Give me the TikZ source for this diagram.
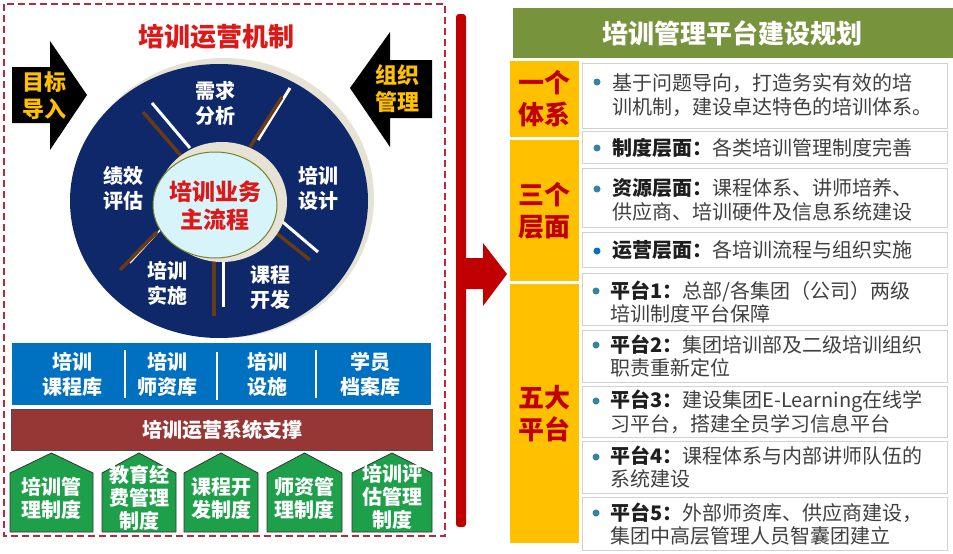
\documentclass[tikz,border=0pt]{standalone}
\usepackage{fontspec}
\setmainfont{Noto Sans CJK SC}
\definecolor{navy}{RGB}{15,40,105}
\definecolor{beige}{RGB}{230,226,212}
\definecolor{innerfill}{RGB}{214,244,250}
\definecolor{olive}{RGB}{120,130,40}
\definecolor{brownline}{RGB}{105,58,22}
\definecolor{bandblue}{RGB}{0,112,192}
\definecolor{bandbrown}{RGB}{150,55,53}
\definecolor{housegreen}{RGB}{30,160,75}
\definecolor{gold}{RGB}{255,192,0}
\definecolor{titleolive}{RGB}{119,147,60}
\definecolor{darkred}{RGB}{192,0,0}
\definecolor{brightred}{RGB}{222,24,24}
\definecolor{bulletc}{RGB}{49,133,156}
\definecolor{txtgray}{RGB}{64,64,64}
\definecolor{lblblack}{RGB}{30,30,30}
\definecolor{dashred}{RGB}{190,40,60}
\newcommand\lbtxt[1]{{\bfseries\color{lblblack}#1}}
\begin{document}
\begin{tikzpicture}[x=1pt,y=-1pt,
  wlabel/.style={font=\fontsize{20}{25}\selectfont\bfseries, text=white, align=center, inner sep=0},
  housetxt/.style={font=\fontsize{20}{23}\selectfont\bfseries, text=white, align=center, inner sep=0},
  goldlabel/.style={font=\fontsize{26}{32}\selectfont\bfseries, text=darkred, align=center, inner sep=0},
  rowbox/.style={draw=black!18, fill=white, line width=0.8pt},
  rowtxt/.style={font=\fontsize{20}{23.5}\selectfont, text=txtgray, align=left, anchor=west, inner sep=0},
  bul/.style={circle, fill=bulletc, inner sep=0, minimum size=7pt},
  house/.style={fill=housegreen, draw=black!80, line width=0.8pt},
  blackarrow/.style={fill=black},
  wline/.style={draw=white, line width=3pt},
  bline/.style={draw=brownline, line width=3.5pt}
]
\useasboundingbox (0,0) rectangle (953,554);

% ---------- left panel ----------
\draw[dashred, line width=1.2pt, dash pattern=on 7pt off 4pt] (4,4) rectangle (445,536);
\node[font=\fontsize{26}{30}\selectfont\bfseries, text=brightred, inner sep=0] (lefttitle) at (216,37) {培训运营机制};

% black arrows
\fill[blackarrow] (12,67) -- (50,67) -- (50,41) -- (87,95) -- (50,150) -- (50,123) -- (12,123) -- cycle;
\node[font=\fontsize{22}{27}\selectfont\bfseries, text=gold, align=center, inner sep=0] (goal) at (44,96) {目标\\导入};
\fill[blackarrow] (432,60) -- (390,60) -- (390,32) -- (350,88) -- (390,147) -- (390,118) -- (432,118) -- cycle;
\node[font=\fontsize{22}{27}\selectfont\bfseries, text=gold, align=center, inner sep=0] (org) at (397,89) {组织\\管理};

% circle
\fill[beige] (224,198) ellipse [x radius=150, y radius=140];
\fill[navy] (219,201) ellipse [x radius=149, y radius=137];
% dividers
\draw[wline] (152,103) -- (190,148);
\draw[bline] (143,112) -- (182,157);
\draw[wline] (290,88) -- (258,140);
\draw[bline] (282,97) -- (250,147);
\draw[wline] (278,218) -- (318,252);
\draw[bline] (270,228) -- (310,260);
\draw[wline] (223,258) -- (223,307);
\draw[bline] (214,262) -- (214,316);
\draw[wline, line width=1.5pt] (162,228) -- (130,263);
\draw[bline] (157,232) -- (120,270);
% inner
\fill[beige] (222,202) ellipse [x radius=65, y radius=60];
\draw[olive, fill=innerfill, line width=1pt] (215,205) ellipse [x radius=62, y radius=53];
\node[font=\fontsize{23}{28}\selectfont\bfseries, text=brightred, align=center, inner sep=0] (core) at (215,206) {培训业务\\主流程};

\node[wlabel] (s1) at (215,103) {需求\\分析};
\node[wlabel] (s2) at (318,188) {培训\\设计};
\node[wlabel] (s3) at (270,288) {课程\\开发};
\node[wlabel] (s4) at (167,283) {培训\\实施};
\node[wlabel] (s5) at (123,188) {绩效\\评估};

% blue band
\fill[bandblue] (12,343) rectangle (431,405);
\draw[white, line width=1.2pt] (125,350) -- (125,398);
\draw[white, line width=1.2pt] (217,352) -- (217,400);
\draw[white, line width=1.2pt] (316,350) -- (316,398);
\node[wlabel] (lib1) at (72,374) {培训\\课程库};
\node[wlabel] (lib2) at (167,374) {培训\\师资库};
\node[wlabel] (lib3) at (267,374) {培训\\设施};
\node[wlabel] (lib4) at (370,374) {学员\\档案库};

% brown band
\draw[fill=bandbrown, draw=black!70, line width=0.8pt] (11,409) rectangle (432,450);
\node[wlabel] (support) at (222,430) {培训运营系统支撑};

% houses
\draw[house] (10,532) -- (10,473) -- (51.5,453) -- (93,473) -- (93,532) -- cycle;
\draw[house] (102,532) -- (102,473) -- (139,453) -- (176,473) -- (176,532) -- cycle;
\draw[house] (184,532) -- (184,473) -- (221,453) -- (258,473) -- (258,532) -- cycle;
\draw[house] (267,532) -- (267,473) -- (304.5,453) -- (342,473) -- (342,532) -- cycle;
\draw[house] (352,532) -- (352,473) -- (392,453) -- (432,473) -- (432,532) -- cycle;
\node[housetxt] (h1) at (51.5,498) {培训管\\理制度};
\node[housetxt] (h2) at (139,498) {教育经\\费管理\\制度};
\node[housetxt] (h3) at (221,498) {课程开\\发制度};
\node[housetxt] (h4) at (304.5,498) {师资管\\理制度};
\node[housetxt] (h5) at (392,497) {培训评\\估管理\\制度};

% ---------- middle red bracket arrow ----------
\fill[darkred, rounded corners=3pt] (456,527) -- (456,14) -- (466,14) -- (466,527) -- cycle;
\fill[darkred] (465,258) -- (483,258) -- (483,243) -- (507,274) -- (483,306) -- (483,289) -- (465,289) -- cycle;

% ---------- right panel ----------
\fill[titleolive] (513,8) rectangle (953,58);
\node[font=\fontsize{26}{30}\selectfont\bfseries, text=white, inner sep=0] (rtitle) at (732,33) {培训管理平台建设规划};

\fill[gold] (510,61) rectangle (579,137);
\fill[gold] (510,140) rectangle (579,281);
\fill[gold] (510,284) rectangle (579,543);
\node[goldlabel] (g1) at (544,99) {一个\\体系};
\node[goldlabel] (g2) at (544,211) {三个\\层面};
\node[goldlabel] (g3) at (544,414) {五大\\平台};

\draw[rowbox] (582,63) rectangle (947,128);
\draw[rowbox] (582,131) rectangle (947,163);
\draw[rowbox] (582,168) rectangle (947,227);
\draw[rowbox] (582,232) rectangle (947,267);
\draw[rowbox] (582,273) rectangle (947,325);
\draw[rowbox] (582,330) rectangle (947,382);
\draw[rowbox] (582,386) rectangle (947,437);
\draw[rowbox] (582,441) rectangle (947,493);
\draw[rowbox] (582,497) rectangle (947,550);

\node[bul] (b1) at (597,82) {};
\node[bul] (b2) at (597,148) {};
\node[bul] (b3) at (597,189) {};
\node[bul, fill=bandblue] (b4) at (597,251) {};
\node[bul] (b5) at (596,291) {};
\node[bul] (b6) at (596,345) {};
\node[bul] (b7) at (596,401) {};
\node[bul] (b8) at (596,457) {};
\node[bul] (b9) at (596,513) {};

\node[rowtxt] (t1) at (612,95) {基于问题导向，打造务实有效的培\\训机制，建设卓达特色的培训体系。};
\node[rowtxt] (t2) at (612,148) {\lbtxt{制度层面：}各类培训管理制度完善};
\node[rowtxt] (t3) at (612,200) {\lbtxt{资源层面：}课程体系、讲师培养、\\供应商、培训硬件及信息系统建设};
\node[rowtxt] (t4) at (612,250) {\lbtxt{运营层面：}各培训流程与组织实施};
\node[rowtxt] (t5) at (610,302) {\lbtxt{平台1：}总部/各集团（公司）两级\\培训制度平台保障};
\node[rowtxt] (t6) at (610,356) {\lbtxt{平台2：}集团培训部及二级培训组织\\职责重新定位};
\node[rowtxt] (t7) at (610,412) {\lbtxt{平台3：}建设集团E-Learning在线学\\习平台，搭建全员学习信息平台};
\node[rowtxt] (t8) at (610,467) {\lbtxt{平台4：}课程体系与内部讲师队伍的\\系统建设};
\node[rowtxt] (t9) at (610,524) {\lbtxt{平台5：}外部师资库、供应商建设，\\集团中高层管理人员智囊团建立};
\end{tikzpicture}
\end{document}
